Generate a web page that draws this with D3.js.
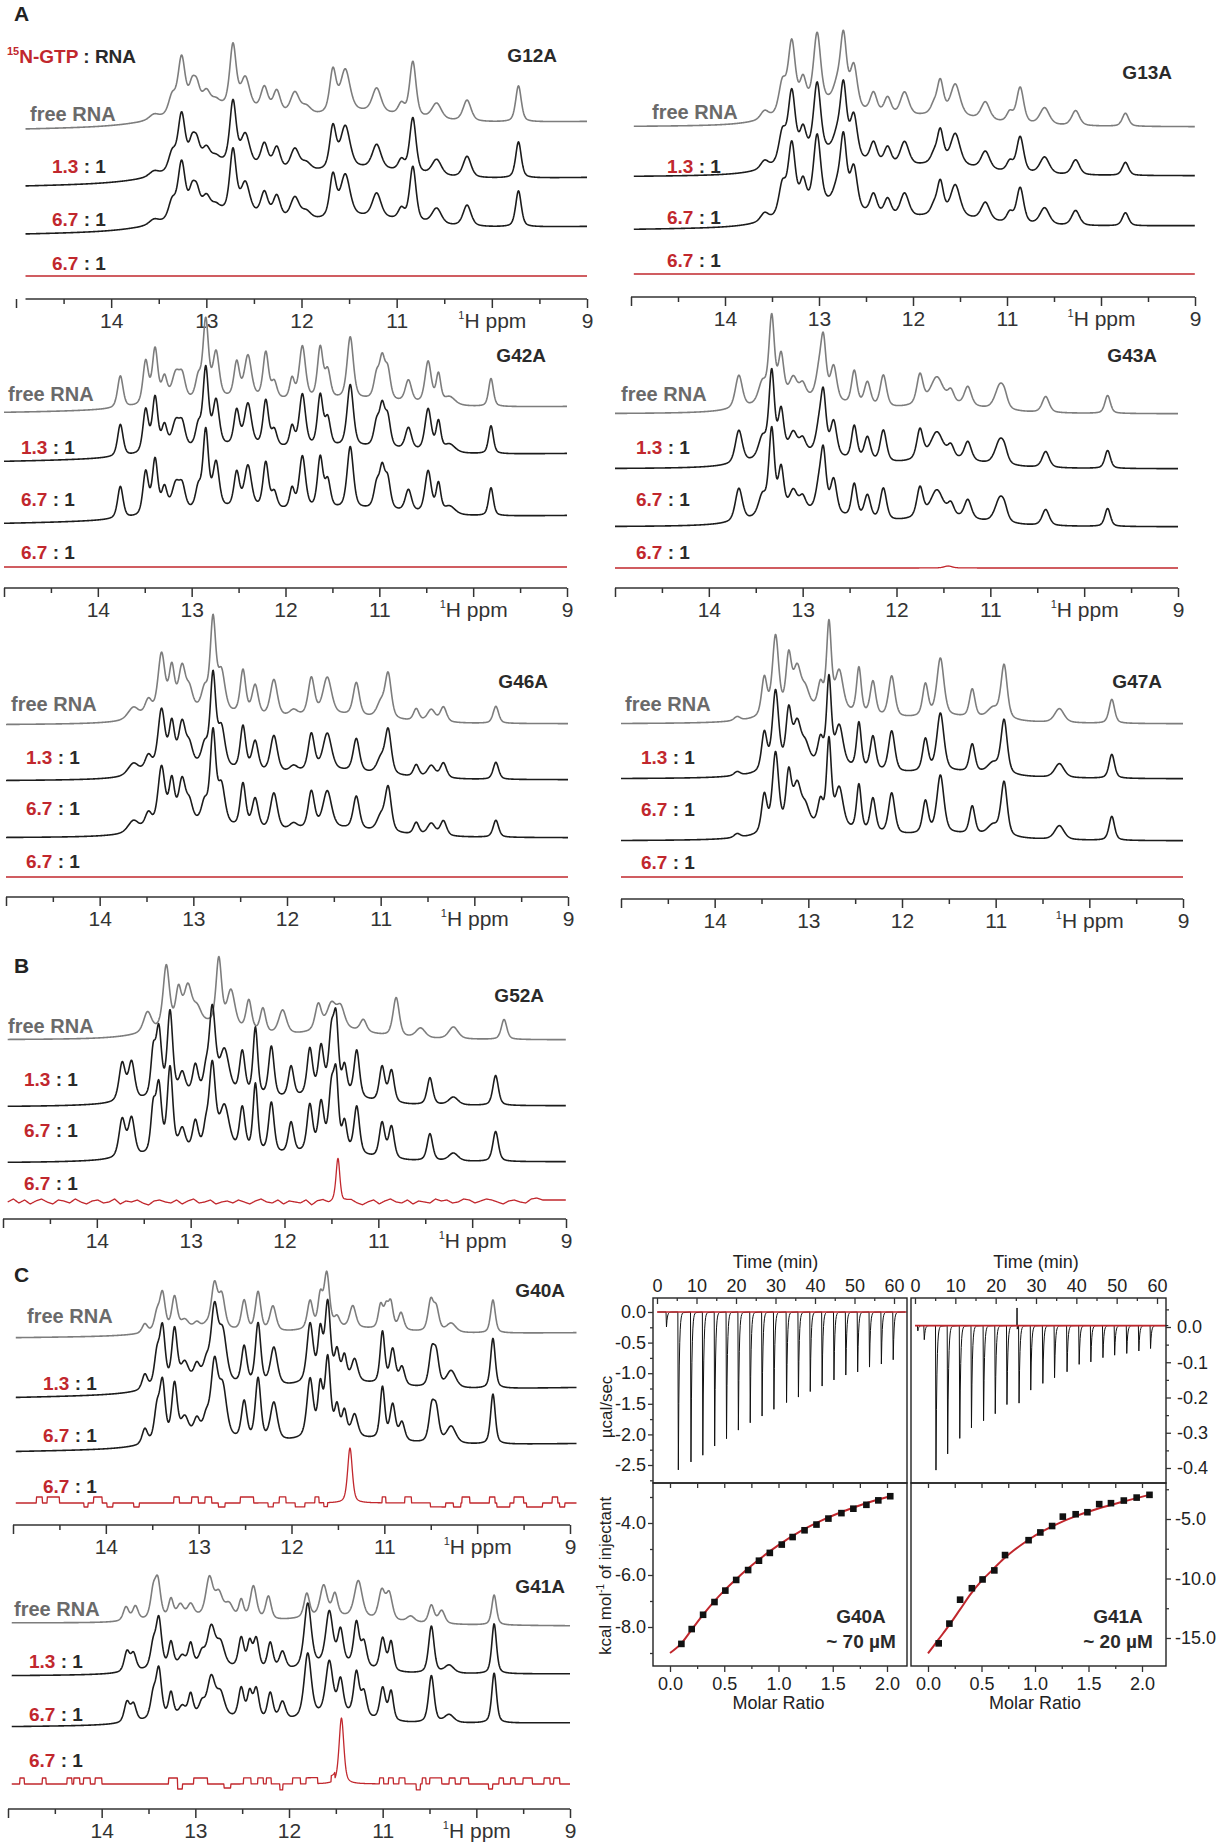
<!DOCTYPE html>
<html>
<head>
<meta charset="utf-8">
<script src="https://cdn.jsdelivr.net/npm/d3@7"></script>
<style>
  body { margin: 0; background: #fff; }
  svg { display: block; }
</style>
</head>
<body>
<svg id="fig" width="1218" height="1843"></svg>
<script>
// ---------- data: NMR peak lists [ppm, intensity, half width] ----------
const ppmMajor = [15, 14, 13, 12, 11, 10, 9];
const ppmMinor = [14.5, 13.5, 12.5, 11.5, 10.5, 9.5];

const g12aPeaks = [
  [12.85, 18, 0.6], [11.35, 11, 0.55],
  [13.55, 5, 0.06], [13.36, 18, 0.045], [13.26, 55, 0.045], [13.15, 22, 0.04], [13.10, 20, 0.04],
  [13.00, 16, 0.05], [12.90, 6, 0.05], [12.72, 62, 0.04], [12.59, 30, 0.055], [12.39, 24, 0.045],
  [12.26, 22, 0.045], [12.07, 22, 0.055], [11.95, 8, 0.06], [11.67, 42, 0.04], [11.54, 42, 0.06],
  [11.21, 24, 0.055], [10.95, 11, 0.04], [10.83, 55, 0.04], [10.58, 16, 0.06], [10.26, 21, 0.05],
  [9.72, 36, 0.035]
];
const g13aPeaks = [
  [12.95, 21, 0.45], [11.7, 10, 0.5],
  [13.58, 8, 0.05], [13.39, 30, 0.045], [13.29, 68, 0.045], [13.17, 26, 0.04], [13.02, 70, 0.045],
  [12.81, 16, 0.05], [12.74, 68, 0.04], [12.63, 42, 0.045], [12.42, 21, 0.045], [12.27, 18, 0.045],
  [12.09, 24, 0.055], [11.78, 8, 0.04], [11.71, 33, 0.04], [11.55, 31, 0.06], [11.23, 18, 0.055],
  [10.97, 10, 0.04], [10.86, 36, 0.045], [10.60, 17, 0.06], [10.27, 15, 0.05], [9.74, 13, 0.04]
];
const g42aPeaks = [
  [12.6, 10, 0.8], [11.2, 7, 0.6],
  [13.76, 32, 0.035], [13.49, 43, 0.035], [13.39, 54, 0.035], [13.29, 24, 0.035], [13.17, 27, 0.05],
  [13.10, 22, 0.04], [12.93, 20, 0.035], [12.85, 78, 0.035], [12.74, 45, 0.04], [12.52, 35, 0.035],
  [12.40, 42, 0.045], [12.21, 46, 0.035], [12.12, 16, 0.035], [11.93, 20, 0.03], [11.82, 53, 0.04],
  [11.63, 51, 0.035], [11.55, 27, 0.035], [11.31, 62, 0.04], [11.03, 22, 0.035], [10.97, 38, 0.035],
  [10.91, 28, 0.035], [10.69, 22, 0.04], [10.48, 42, 0.04], [10.37, 29, 0.03], [10.25, 8, 0.07],
  [9.81, 28, 0.03]
];
const g43aPeaks = [
  [13.0, 14, 0.5], [11.5, 8, 0.5],
  [13.68, 33, 0.045], [13.43, 20, 0.05], [13.33, 84, 0.035], [13.23, 43, 0.035], [13.10, 20, 0.05],
  [13.00, 13, 0.04], [12.83, 21, 0.04], [12.78, 58, 0.035], [12.67, 34, 0.04], [12.45, 34, 0.035],
  [12.31, 24, 0.04], [12.14, 32, 0.04], [11.75, 30, 0.04], [11.57, 27, 0.08], [11.42, 12, 0.04],
  [11.24, 19, 0.045], [10.90, 23, 0.06], [10.85, 9, 0.04], [10.41, 16, 0.045], [9.75, 18, 0.035]
];
const g46aPeaks = [
  [12.95, 12, 0.5], [11.5, 8, 0.6],
  [13.64, 12, 0.07], [13.48, 16, 0.045], [13.34, 60, 0.045], [13.23, 43, 0.035], [13.12, 43, 0.045],
  [13.04, 18, 0.04], [12.88, 19, 0.04], [12.79, 90, 0.035], [12.70, 38, 0.045], [12.47, 44, 0.035],
  [12.34, 30, 0.04], [12.14, 37, 0.045], [11.93, 6, 0.05], [11.74, 37, 0.04], [11.57, 37, 0.055],
  [11.26, 33, 0.04], [11.00, 14, 0.05], [10.92, 44, 0.04], [10.62, 12, 0.035], [10.46, 12, 0.05],
  [10.33, 15, 0.04], [9.77, 17, 0.035]
];
const g47aPeaks = [
  [12.9, 12, 0.5], [11.5, 6, 0.6],
  [13.76, 4, 0.04], [13.47, 38, 0.035], [13.35, 78, 0.04], [13.21, 53, 0.035], [13.12, 41, 0.05],
  [13.03, 18, 0.05], [12.87, 24, 0.035], [12.78, 85, 0.03], [12.67, 39, 0.05], [12.46, 46, 0.03],
  [12.31, 34, 0.035], [12.11, 41, 0.04], [11.75, 32, 0.035], [11.59, 58, 0.045], [11.25, 28, 0.035],
  [11.03, 10, 0.07], [10.91, 54, 0.04], [10.32, 14, 0.06], [9.76, 24, 0.035]
];
const g52aFreePeaks = [
  [12.9, 15, 0.5], [11.4, 9, 0.4],
  [13.46, 20, 0.05], [13.26, 62, 0.04], [13.13, 34, 0.035], [13.03, 37, 0.05], [12.93, 14, 0.05],
  [12.70, 66, 0.035], [12.57, 36, 0.05], [12.38, 30, 0.035], [12.23, 24, 0.035], [12.02, 24, 0.05],
  [11.64, 26, 0.04], [11.50, 25, 0.06], [11.40, 20, 0.05], [11.16, 12, 0.04], [10.81, 39, 0.04],
  [10.55, 10, 0.06], [10.20, 12, 0.06], [9.66, 20, 0.035]
];
const g52aBoundPeaks = [
  [12.8, 10, 0.7], [11.5, 9, 0.35],
  [13.73, 38, 0.04], [13.63, 38, 0.04], [13.40, 42, 0.03], [13.34, 66, 0.035], [13.22, 84, 0.035],
  [13.09, 21, 0.04], [12.95, 28, 0.035], [12.84, 17, 0.03], [12.77, 84, 0.04], [12.64, 43, 0.06],
  [12.45, 43, 0.035], [12.31, 68, 0.03], [12.14, 51, 0.035], [11.93, 31, 0.035], [11.73, 46, 0.035],
  [11.61, 46, 0.035], [11.50, 57, 0.035], [11.45, 66, 0.03], [11.36, 27, 0.03], [11.23, 47, 0.035],
  [10.96, 35, 0.035], [10.86, 32, 0.035], [10.45, 27, 0.035], [10.20, 8, 0.06], [9.75, 30, 0.035]
];
const g52aRedPeaks = [[11.43, 45, 0.025]];
// red trace wiggle for G52A, one value every 0.06 ppm from 14.95 ppm
const g52aRedWiggle = [0, 3, -1, 2, -2, 1, 3, 0, -2, 2, 1, -1, 3, 0, -2, 1, 2, -1, 0, 3, -2, 1, 0, 2, -1,
  -3, 1, 2, 0, -1, 2, -2, 1, 3, -1, 0, 2, -2, 0, 1, -1, 2, 0, -2, 1, 3, 0, -1, 2, -2, 1, 0, -1, 2, -3,
  1, 2, -1, 0, -2, 1, 2, -1, -3, 0, 2, -2, 1, 3, 0, -1, 2, -2, 1, 0, -1, 3, 1, 2, -1, 0, 3, 2, -1, 1,
  3, 2, 0, -2, 1, 2, 0, -1, 3, 4, 2];
const g40aFreePeaks = [
  [13.0, 6, 0.5], [11.4, 6, 0.6],
  [13.58, 9, 0.035], [13.45, 17, 0.035], [13.39, 37, 0.035], [13.26, 33, 0.035], [13.15, 9, 0.05],
  [13.02, 6, 0.04], [12.92, 3, 0.04], [12.83, 44, 0.04], [12.75, 32, 0.04], [12.51, 30, 0.035],
  [12.36, 39, 0.035], [12.20, 25, 0.04], [11.80, 28, 0.035], [11.69, 31, 0.03], [11.62, 54, 0.035],
  [11.51, 10, 0.035], [11.34, 22, 0.04], [11.04, 23, 0.03], [10.98, 20, 0.03], [10.93, 25, 0.03],
  [10.82, 17, 0.035], [10.50, 30, 0.035], [10.44, 22, 0.035], [10.28, 9, 0.06], [9.83, 33, 0.03]
];
const g40aBoundPeaks = [
  [13.0, 9, 0.5], [11.5, 9, 0.6],
  [13.58, 15, 0.035], [13.45, 31, 0.035], [13.39, 57, 0.035], [13.26, 55, 0.035], [13.15, 20, 0.05],
  [13.02, 17, 0.04], [12.92, 17, 0.04], [12.83, 72, 0.045], [12.74, 48, 0.05], [12.51, 38, 0.035],
  [12.36, 62, 0.035], [12.19, 38, 0.045], [11.80, 58, 0.04], [11.69, 48, 0.03], [11.61, 77, 0.035],
  [11.51, 28, 0.03], [11.43, 24, 0.03], [11.32, 22, 0.04], [11.02, 52, 0.03], [10.91, 35, 0.035],
  [10.81, 18, 0.035], [10.49, 33, 0.035], [10.44, 30, 0.035], [10.28, 17, 0.06], [9.83, 50, 0.03]
];
const g40aRedPeaks = [[11.37, 55, 0.03]];
// digitiser steps on the red traces [from ppm, to ppm, offset]
const g40aRedSteps = [
  [14.746, 14.684, 6], [14.631, 14.5, 6], [14.234, 14.193, -4], [14.131, 14.041, 6], [13.988, 13.926, -4],
  [13.701, 13.639, -4], [13.27, 13.209, 6], [13.074, 13.004, 6], [12.934, 12.861, 6], [12.787, 12.717, -4],
  [12.553, 12.41, 6], [12.254, 12.197, -4], [12.131, 12.061, 6], [11.959, 11.857, -4], [11.746, 11.705, 6],
  [11.652, 11.611, -4], [11.025, 10.984, 6], [10.779, 10.709, 6], [10.504, 10.34, -4], [10.258, 10.176, -4],
  [10.164, 10.082, 6], [9.869, 9.807, 6], [9.787, 9.65, -4], [9.602, 9.5, 6], [9.467, 9.295, -4],
  [9.193, 9.131, 6], [9.111, 9.057, -4]
];
const g41aFreePeaks = [
  [13.0, 6, 0.5], [11.5, 7, 0.55],
  [13.74, 14, 0.035], [13.64, 14, 0.035], [13.45, 26, 0.035], [13.40, 35, 0.035], [13.26, 18, 0.03],
  [13.16, 12, 0.04], [13.05, 12, 0.04], [12.85, 38, 0.045], [12.75, 23, 0.05], [12.64, 13, 0.05],
  [12.51, 18, 0.03], [12.38, 33, 0.04], [12.22, 23, 0.035], [11.81, 24, 0.035], [11.63, 31, 0.045],
  [11.51, 22, 0.035], [11.26, 37, 0.05], [11.01, 28, 0.04], [10.93, 26, 0.04], [10.70, 6, 0.05],
  [10.48, 18, 0.035], [10.37, 13, 0.04], [9.81, 30, 0.03]
];
const g41aBoundPeaks = [
  [13.0, 9, 0.5], [11.5, 9, 0.35],
  [13.73, 20, 0.035], [13.66, 17, 0.035], [13.45, 23, 0.035], [13.39, 48, 0.035], [13.26, 24, 0.03],
  [13.14, 9, 0.04], [13.05, 21, 0.03], [12.93, 11, 0.035], [12.83, 38, 0.05], [12.73, 22, 0.05],
  [12.51, 30, 0.035], [12.42, 25, 0.03], [12.35, 30, 0.035], [12.20, 27, 0.035], [12.07, 18, 0.04],
  [11.80, 64, 0.045], [11.57, 52, 0.045], [11.45, 33, 0.035], [11.28, 43, 0.035], [11.20, 24, 0.035],
  [11.00, 32, 0.035], [10.91, 29, 0.03], [10.48, 47, 0.035], [10.29, 8, 0.06], [9.81, 50, 0.03]
];
const g41aRedPeaks = [[11.44, 66, 0.03]];
const g41aRedSteps = [
  [14.876, 14.826, 6], [14.636, 14.595, 6], [14.372, 14.318, 6], [14.298, 14.236, 6], [14.194, 14.124, 6],
  [14.07, 14.0, 6], [13.285, 13.19, 6], [13.19, 13.14, -5], [13.017, 12.872, 6], [12.694, 12.624, -4],
  [12.488, 12.405, 6], [12.335, 12.273, 6], [12.24, 12.19, 6], [12.10, 12.066, -6], [11.963, 11.88, 6],
  [11.818, 11.694, 6], [11.55, 11.51, 6], [11.033, 10.992, 6], [10.938, 10.888, 6], [10.826, 10.764, 6],
  [10.64, 10.60, -6], [10.58, 10.537, 6], [10.496, 10.372, 6], [10.29, 10.227, 6], [10.165, 10.083, 6],
  [9.868, 9.826, -5], [9.76, 9.71, 6], [9.636, 9.587, 6], [9.504, 9.401, 6], [9.277, 9.215, 6],
  [9.174, 9.112, 6]
];
const g43aRedPeaks = [[11.45, 2, 0.05]];

// ---------- data: ITC ----------
const itcTimeTicks = [0, 10, 20, 30, 40, 50, 60];
const g40aInjTimes = [2.3, 5.3, 8.5, 11.5, 14.5, 17.5, 20.5, 23.5, 26.5, 29.5, 32.7, 35.7, 38.7, 41.7,
  44.7, 47.7, 50.7, 53.7, 56.7, 59.7];
const g40aInjPeaks = [-0.245, -2.58, -2.45, -2.34, -2.19, -2.07, -1.93, -1.81, -1.70, -1.59, -1.48, -1.39,
  -1.30, -1.21, -1.11, -1.03, -0.98, -0.90, -0.85, -0.78];
const g41aInjTimes = [0.6, 2.2, 5.1, 8.0, 11.0, 13.9, 16.9, 19.8, 22.7, 25.7, 28.6, 31.6, 34.5, 37.6, 40.6,
  43.5, 46.5, 49.4, 52.4, 55.4, 58.3];
const g41aInjPeaks = [-0.015, -0.04, -0.41, -0.364, -0.32, -0.29, -0.27, -0.25, -0.224, -0.22, -0.183,
  -0.164, -0.148, -0.131, -0.11, -0.103, -0.091, -0.084, -0.079, -0.072, -0.065];
const g41aSpike = [25.3, 0.05];
const g40aBaseline = 0;
const g41aBaseline = 0.004;

const g40aRatio = [0.105, 0.2, 0.305, 0.41, 0.51, 0.61, 0.72, 0.82, 0.92, 1.03, 1.13, 1.24, 1.35, 1.46,
  1.58, 1.69, 1.81, 1.92, 2.03];
const g40aHeat = [-8.65, -8.08, -7.53, -7.04, -6.6, -6.19, -5.81, -5.45, -5.15, -4.83, -4.54, -4.28,
  -4.06, -3.83, -3.62, -3.45, -3.30, -3.13, -2.97];
const g40aFitX = [0, 0.1, 0.2, 0.3, 0.4, 0.5, 0.6, 0.7, 0.8, 0.9, 1.0, 1.2, 1.4, 1.6, 1.8, 2.03];
const g40aFitY = [-9.0, -8.65, -8.1, -7.55, -7.05, -6.6, -6.2, -5.82, -5.47, -5.15, -4.85, -4.32, -3.9,
  -3.55, -3.25, -2.97];
const g41aRatio = [0.10, 0.20, 0.30, 0.41, 0.51, 0.62, 0.72, 0.94, 1.05, 1.16, 1.26, 1.38, 1.49, 1.60,
  1.71, 1.83, 1.95, 2.07];
const g41aHeat = [-15.45, -13.79, -11.78, -10.82, -10.08, -9.32, -8.03, -6.78, -6.13, -5.59, -4.80,
  -4.60, -4.43, -3.75, -3.67, -3.45, -3.20, -2.97];
const g41aFitX = [0, 0.1, 0.2, 0.3, 0.4, 0.5, 0.6, 0.7, 0.8, 0.9, 1.0, 1.2, 1.4, 1.6, 1.8, 2.07];
const g41aFitY = [-16.3, -15.1, -13.9, -12.6, -11.3, -10.2, -9.3, -8.4, -7.65, -7.0, -6.4, -5.45, -4.7,
  -4.1, -3.6, -2.97];

// ---------- layout ----------
const FONT = '"Liberation Sans", Arial, Helvetica, sans-serif';
const RED = '#c1272d';
const GREY_TRACE = '#7d7d7d';
const BLACK_TRACE = '#1c1c1c';

const panels = [
  { name: 'G12A', range: [16, 587], axisY: 299, lineFrom: 14.9, ppm: [14.9, 9],
    free: g12aPeaks, b13: g12aPeaks, b67: g12aPeaks, red: [],
    base: { free: [130, 122], b13: [187, 178], b67: [235, 227], red: [276, 276] },
    nameXY: [557, 62], freeXY: [30, 121], ratioX: 52, ratioY: [173, 226, 270] },
  { name: 'G13A', range: [631, 1195], axisY: 297, lineFrom: 15, ppm: [14.97, 9],
    free: g13aPeaks, b13: g13aPeaks, b67: g13aPeaks, red: [],
    base: { free: [127, 127], b13: [177, 176], b67: [230, 226], red: [274, 274] },
    nameXY: [1172, 79], freeXY: [652, 119], ratioX: 667, ratioY: [173, 224, 267] },
  { name: 'G42A', range: [4, 567], axisY: 588, lineFrom: 15, ppm: [15, 9],
    free: g42aPeaks, b13: g42aPeaks, b67: g42aPeaks, red: [],
    base: { free: [413, 407], b13: [462, 454], b67: [524, 516], red: [567, 567] },
    nameXY: [546, 362], freeXY: [8, 401], ratioX: 21, ratioY: [454, 506, 559] },
  { name: 'G43A', range: [615, 1178], axisY: 588, lineFrom: 15, ppm: [15, 9],
    free: g43aPeaks, b13: g43aPeaks, b67: g43aPeaks, red: g43aRedPeaks,
    base: { free: [414, 414], b13: [469, 469], b67: [527, 527], red: [568, 568] },
    nameXY: [1157, 362], freeXY: [621, 401], ratioX: 636, ratioY: [454, 506, 559] },
  { name: 'G46A', range: [6, 568], axisY: 897, lineFrom: 15, ppm: [15, 9],
    free: g46aPeaks, b13: g46aPeaks, b67: g46aPeaks, red: [],
    base: { free: [725, 724], b13: [781, 780], b67: [838, 838], red: [877, 877] },
    nameXY: [548, 688], freeXY: [11, 711], ratioX: 26, ratioY: [764, 815, 868] },
  { name: 'G47A', range: [621, 1183], axisY: 899, lineFrom: 15, ppm: [15, 9],
    free: g47aPeaks, b13: g47aPeaks, b67: g47aPeaks, red: [],
    base: { free: [724, 724], b13: [779, 779], b67: [841, 841], red: [877, 877] },
    nameXY: [1162, 688], freeXY: [625, 711], ratioX: 641, ratioY: [764, 816, 869] },
  { name: 'G52A', range: [3, 566], axisY: 1219, lineFrom: 15, ppm: [14.95, 9],
    free: g52aFreePeaks, b13: g52aBoundPeaks, b67: g52aBoundPeaks, red: g52aRedPeaks, wiggle: g52aRedWiggle,
    base: { free: [1040, 1040], b13: [1107, 1106], b67: [1163, 1162], red: [1202, 1202] },
    nameXY: [544, 1002], freeXY: [8, 1033], ratioX: 24, ratioY: [1086, 1137, 1190] },
  { name: 'G40A', range: [13, 570], axisY: 1525, lineFrom: 15, ppm: [14.97, 8.93],
    free: g40aFreePeaks, b13: g40aBoundPeaks, b67: g40aBoundPeaks, red: g40aRedPeaks, steps: g40aRedSteps,
    base: { free: [1338, 1333], b13: [1398, 1388], b67: [1452, 1444], red: [1503, 1503] },
    nameXY: [565, 1297], freeXY: [27, 1323], ratioX: 43, ratioY: [1390, 1442, 1493] },
  { name: 'G41A', range: [8, 570], axisY: 1809, lineFrom: 15, ppm: [14.96, 9],
    free: g41aFreePeaks, b13: g41aBoundPeaks, b67: g41aBoundPeaks, red: g41aRedPeaks, steps: g41aRedSteps,
    base: { free: [1623, 1626], b13: [1676, 1674], b67: [1727, 1723], red: [1784, 1784] },
    nameXY: [565, 1593], freeXY: [14, 1616], ratioX: 29, ratioY: [1668, 1721, 1767] }
];

const svg = d3.select('#fig').attr('font-family', FONT);

// ---------- spectra ----------
function lineShape(ppm, peaks) {
  let s = 0;
  for (const [p0, h, w] of peaks) {
    const d = (ppm - p0) / w;
    s += h * (0.5 / (1 + d * d) + 0.5 * Math.exp(-0.693 * d * d));
  }
  return s;
}
function stepValue(ppm, steps) {
  if (!steps) return 0;
  for (const [a, b, v] of steps) if (ppm <= a && ppm >= b) return v;
  return 0;
}
function wiggleValue(ppm, wiggle) {
  if (!wiggle) return 0;
  const f = (14.95 - ppm) / 0.06;
  const i = Math.max(0, Math.min(wiggle.length - 2, Math.floor(f)));
  const t = Math.max(0, Math.min(1, f - i));
  return wiggle[i] * (1 - t) + wiggle[i + 1] * t;
}

const intensity = d3.scaleLinear().domain([0, 100]).range([0, 100]);

function drawPanel(p) {
  const x = d3.scaleLinear().domain([15, 9]).range(p.range);
  const g = svg.append('g');
  const ppmGrid = d3.range(p.ppm[0], p.ppm[1] - 0.0001, -0.004);

  const traces = [
    { key: 'free', peaks: p.free, color: GREY_TRACE, width: 1.6 },
    { key: 'b13', peaks: p.b13, color: BLACK_TRACE, width: 1.6 },
    { key: 'b67', peaks: p.b67, color: BLACK_TRACE, width: 1.6 },
    { key: 'red', peaks: p.red, color: RED, width: 1.3 }
  ];
  for (const tr of traces) {
    const base = d3.scaleLinear().domain([15, 9]).range(p.base[tr.key]);
    const isRed = tr.key === 'red';
    const line = d3.line()
      .x(d => x(d))
      .y(d => {
        let v = lineShape(d, tr.peaks);
        if (isRed) v += stepValue(d, p.steps) + wiggleValue(d, p.wiggle);
        return base(d) - intensity(v);
      });
    g.append('path')
      .datum(ppmGrid)
      .attr('fill', 'none')
      .attr('stroke', tr.color)
      .attr('stroke-width', tr.width)
      .attr('stroke-linejoin', 'round')
      .attr('d', line);
  }

  // axis
  const ax = g.append('g').attr('transform', `translate(0,${p.axisY})`);
  ax.call(d3.axisBottom(x).tickValues(ppmMajor).tickSize(9)
    .tickFormat(d => (d === 15 || d === 10) ? '' : d));
  ax.select('.domain').remove();
  ax.attr('font-family', FONT).attr('font-size', 21);
  ax.selectAll('.tick line').attr('stroke', '#333').attr('stroke-width', 1.5);
  ax.selectAll('.tick text').attr('y', 29).attr('dy', null).attr('fill', '#333');
  ax.selectAll('.tick').filter(d => d === 10).select('text').each(function () {
    const t = d3.select(this);
    t.append('tspan').attr('font-size', 11).attr('dy', -9).text('1');
    t.append('tspan').attr('dy', 9).text('H ppm');
  });
  const minor = ax.append('g')
    .call(d3.axisBottom(x).tickValues(ppmMinor).tickSize(5).tickFormat(''));
  minor.select('.domain').remove();
  minor.selectAll('.tick line').attr('stroke', '#333').attr('stroke-width', 1.5);
  ax.append('line')
    .attr('x1', x(p.lineFrom)).attr('x2', x(9))
    .attr('y1', 0).attr('y2', 0)
    .attr('stroke', '#333').attr('stroke-width', 1.6);

  // labels
  g.append('text').attr('x', p.nameXY[0]).attr('y', p.nameXY[1])
    .attr('text-anchor', 'end').attr('font-size', 19).attr('font-weight', 'bold')
    .attr('fill', '#2a2a2a').text(p.name);
  g.append('text').attr('x', p.freeXY[0]).attr('y', p.freeXY[1])
    .attr('font-size', 20).attr('font-weight', 'bold').attr('fill', '#6a6a6a').text('free RNA');
  ['1.3', '6.7', '6.7'].forEach((r, i) => {
    const t = g.append('text').attr('x', p.ratioX).attr('y', p.ratioY[i])
      .attr('font-size', 19).attr('font-weight', 'bold');
    t.append('tspan').attr('fill', RED).text(r);
    t.append('tspan').attr('fill', '#2a2a2a').text(' : 1');
  });
}
panels.forEach(drawPanel);

// figure letters and header
[['A', 14, 21], ['B', 14, 973], ['C', 14, 1282]].forEach(([s, xx, yy]) => {
  svg.append('text').attr('x', xx).attr('y', yy).attr('font-size', 21)
    .attr('font-weight', 'bold').attr('fill', '#222').text(s);
});
const hdr = svg.append('text').attr('x', 7).attr('y', 63).attr('font-size', 19).attr('font-weight', 'bold');
hdr.append('tspan').attr('fill', RED).attr('font-size', 11).attr('dy', -8).text('15');
hdr.append('tspan').attr('fill', RED).attr('dy', 8).text('N-GTP');
hdr.append('tspan').attr('fill', '#2a2a2a').text(' : RNA');

// ---------- ITC ----------
const boxL = [653, 907], boxR = [911, 1166];
const yTop = [1298, 1483], yBot = [1483, 1666];
const tLeft = d3.scaleLinear().domain([0, 60]).range([657, 894]);
const tRight = d3.scaleLinear().domain([0, 60]).range([915, 1157]);
const pLeft = d3.scaleLinear().domain([0, -2.5]).range([1312, 1465]);
const pRight = d3.scaleLinear().domain([0, -0.4]).range([1327, 1468]);
const mLeft = d3.scaleLinear().domain([0, 2]).range([670, 887]);
const mRight = d3.scaleLinear().domain([0, 2]).range([928, 1142]);
const hLeft = d3.scaleLinear().domain([-4, -8]).range([1523, 1627]);
const hRight = d3.scaleLinear().domain([-5, -15]).range([1519, 1638]);

const itc = svg.append('g');

function thermogram(times, peaks, base, spike) {
  const pts = [[0.3, base]];
  times.forEach((t, i) => {
    const d = peaks[i];
    pts.push([t - 0.02, base], [t + 0.1, base + d]);
    for (let k = 1; k <= 10; k++) pts.push([t + 0.1 + k * 0.12, base + d * Math.exp(-k * 0.12 / 0.22)]);
  });
  if (spike) pts.push([spike[0] - 0.05, base], [spike[0], base + spike[1]], [spike[0] + 0.05, base - 0.01], [spike[0] + 0.3, base]);
  pts.push([62.8, base]);
  return pts.sort((a, b) => a[0] - b[0]);
}

function drawThermo(tScale, pScale, times, peaks, base, spike, tEnd) {
  itc.append('path')
    .datum(thermogram(times, peaks, base, spike))
    .attr('fill', 'none').attr('stroke', '#111').attr('stroke-width', 1)
    .attr('d', d3.line().x(d => tScale(d[0])).y(d => pScale(d[1])));
  itc.append('line')
    .attr('x1', tScale(0)).attr('x2', tScale(tEnd))
    .attr('y1', pScale(base)).attr('y2', pScale(base))
    .attr('stroke', RED).attr('stroke-width', 1.6);
}
drawThermo(tLeft, pLeft, g40aInjTimes, g40aInjPeaks, g40aBaseline, null, 63.2);
drawThermo(tRight, pRight, g41aInjTimes, g41aInjPeaks, g41aBaseline, g41aSpike, 62.2);

function drawIso(mScale, hScale, xs, ys, fx, fy) {
  const fit = fx.map((v, i) => [v, fy[i]]);
  itc.append('path').datum(fit)
    .attr('fill', 'none').attr('stroke', RED).attr('stroke-width', 2)
    .attr('d', d3.line().curve(d3.curveMonotoneX).x(d => mScale(d[0])).y(d => hScale(d[1])));
  itc.selectAll(null).data(xs.map((v, i) => [v, ys[i]])).join('rect')
    .attr('x', d => mScale(d[0]) - 3.3).attr('y', d => hScale(d[1]) - 3.3)
    .attr('width', 6.6).attr('height', 6.6).attr('fill', '#111');
}
drawIso(mLeft, hLeft, g40aRatio, g40aHeat, g40aFitX, g40aFitY);
drawIso(mRight, hRight, g41aRatio, g41aHeat, g41aFitX, g41aFitY);

// frames
[[boxL, yTop], [boxR, yTop], [boxL, yBot], [boxR, yBot]].forEach(([bx, by]) => {
  itc.append('rect').attr('x', bx[0]).attr('y', by[0])
    .attr('width', bx[1] - bx[0]).attr('height', by[1] - by[0])
    .attr('fill', 'none').attr('stroke', '#222').attr('stroke-width', 1.4);
});

function styleAxis(a, size) {
  a.select('.domain').remove();
  a.attr('font-family', FONT).attr('font-size', size);
  a.selectAll('.tick line').attr('stroke', '#333').attr('stroke-width', 1.3);
  a.selectAll('.tick text').attr('fill', '#222');
  return a;
}
const fmt1 = d3.format('.1f');
const minus = s => s.replace('\u2212', '-');

// top time axes
[[tLeft, boxL], [tRight, boxR]].forEach(([ts, bx]) => {
  styleAxis(itc.append('g').attr('transform', `translate(0,${yTop[0]})`)
    .call(d3.axisTop(ts).tickValues(itcTimeTicks).tickSize(-6).tickPadding(6)), 18);
  styleAxis(itc.append('g').attr('transform', `translate(0,${yTop[0]})`)
    .call(d3.axisTop(ts).tickValues([5, 15, 25, 35, 45, 55]).tickSize(-3).tickFormat('')), 18);
  itc.append('text').attr('x', (ts(0) + ts(60)) / 2).attr('y', 1268)
    .attr('text-anchor', 'middle').attr('font-size', 18).attr('fill', '#222').text('Time (min)');
});

// bottom molar ratio axes
[[mLeft, boxL], [mRight, boxR]].forEach(([ms, bx]) => {
  styleAxis(itc.append('g').attr('transform', `translate(0,${yBot[1]})`)
    .call(d3.axisBottom(ms).tickValues([0, 0.5, 1, 1.5, 2]).tickSize(6).tickPadding(5).tickFormat(fmt1)), 18);
  styleAxis(itc.append('g').attr('transform', `translate(0,${yBot[1]})`)
    .call(d3.axisBottom(ms).tickValues([0.25, 0.75, 1.25, 1.75]).tickSize(3).tickFormat('')), 18);
  styleAxis(itc.append('g').attr('transform', `translate(0,${yBot[0]})`)
    .call(d3.axisBottom(ms).tickValues([0, 0.25, 0.5, 0.75, 1, 1.25, 1.5, 1.75, 2]).tickSize(5).tickFormat('')), 18);
  itc.append('text').attr('x', (ms(0) + ms(2)) / 2).attr('y', 1709)
    .attr('text-anchor', 'middle').attr('font-size', 18).attr('fill', '#222').text('Molar Ratio');
});

// y axes
styleAxis(itc.append('g').attr('transform', `translate(${boxL[0]},0)`)
  .call(d3.axisLeft(pLeft).tickValues([0, -0.5, -1, -1.5, -2, -2.5]).tickSize(5).tickPadding(2)
    .tickFormat(d => minus(fmt1(d)))), 18);
styleAxis(itc.append('g').attr('transform', `translate(${boxL[0]},0)`)
  .call(d3.axisLeft(pLeft).tickValues([-0.25, -0.75, -1.25, -1.75, -2.25, -2.75]).tickSize(3).tickFormat('')), 18);
styleAxis(itc.append('g').attr('transform', `translate(${boxR[1]},0)`)
  .call(d3.axisRight(pRight).tickValues([0, -0.1, -0.2, -0.3, -0.4]).tickSize(5).tickPadding(6)
    .tickFormat(d => minus(fmt1(d)))), 18);
styleAxis(itc.append('g').attr('transform', `translate(${boxR[1]},0)`)
  .call(d3.axisRight(pRight).tickValues([0.05, -0.05, -0.15, -0.25, -0.35]).tickSize(3).tickFormat('')), 18);
styleAxis(itc.append('g').attr('transform', `translate(${boxL[0]},0)`)
  .call(d3.axisLeft(hLeft).tickValues([-4, -6, -8]).tickSize(5).tickPadding(2)
    .tickFormat(d => minus(fmt1(d)))), 18);
styleAxis(itc.append('g').attr('transform', `translate(${boxL[0]},0)`)
  .call(d3.axisLeft(hLeft).tickValues([-3, -5, -7, -9]).tickSize(3).tickFormat('')), 18);
styleAxis(itc.append('g').attr('transform', `translate(${boxR[1]},0)`)
  .call(d3.axisRight(hRight).tickValues([-5, -10, -15]).tickSize(5).tickPadding(4)
    .tickFormat(d => minus(fmt1(d)))), 18);
styleAxis(itc.append('g').attr('transform', `translate(${boxR[1]},0)`)
  .call(d3.axisRight(hRight).tickValues([-2.5, -7.5, -12.5]).tickSize(3).tickFormat('')), 18);

// axis titles
itc.append('text').attr('transform', 'translate(612,1407) rotate(-90)')
  .attr('text-anchor', 'middle').attr('font-size', 17).attr('fill', '#222').text('\u00b5cal/sec');
const kt = itc.append('text').attr('transform', 'translate(611,1576) rotate(-90)')
  .attr('text-anchor', 'middle').attr('font-size', 17).attr('fill', '#222');
kt.append('tspan').text('kcal mol');
kt.append('tspan').attr('font-size', 10).attr('dy', -7).text('-1');
kt.append('tspan').attr('dy', 7).text(' of injectant');

// mutant labels
[['G40A', '~ 70 \u00b5M', 861], ['G41A', '~ 20 \u00b5M', 1118]].forEach(([n, kd, cx]) => {
  itc.append('text').attr('x', cx).attr('y', 1623).attr('text-anchor', 'middle')
    .attr('font-size', 19).attr('font-weight', 'bold').attr('fill', '#2a2a2a').text(n);
  itc.append('text').attr('x', cx).attr('y', 1648).attr('text-anchor', 'middle')
    .attr('font-size', 19).attr('font-weight', 'bold').attr('fill', '#2a2a2a').text(kd);
});
</script>
</body>
</html>
